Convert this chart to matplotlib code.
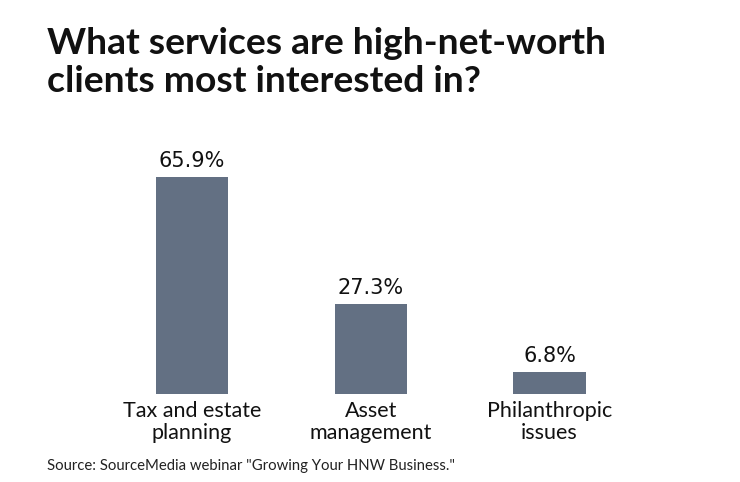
import matplotlib
matplotlib.use('Agg')
from matplotlib import pyplot as plt

categories = ['Tax and estate\nplanning', 'Asset\nmanagement', 'Philanthropic\nissues']
values = [65.9, 27.3, 6.8]
value_labels = ['65.9%', '27.3%', '6.8%']

bar_color = '#637083'

fig = plt.figure(figsize=(7.4, 4.82), dpi=100)
ax = fig.add_axes([0, (482 - 394) / 482, 1, 294 / 482])

x = list(range(len(values)))
ax.bar(x, values, width=0.403, color=bar_color)
ax.set_xlim(-192 / 178.75, (740 - 192) / 178.75)
ax.set_ylim(0, 294 / 3.29)

for xi, v, lab in zip(x, values, value_labels):
    ax.text(xi, v + 3.0, lab, ha='center', va='baseline', fontsize=15,
            family='DejaVu Sans', color='#111111')

for xi, cat in zip(x, categories):
    ax.text(xi, -2.2, cat, ha='center', va='top', fontsize=15.5,
            family='Lato', color='#111111', linespacing=1.08)

ax.axis('off')

fig.text(47 / 740, 1 - 27 / 482, 'What services are high-net-worth\nclients most interested in?',
         ha='left', va='top', fontsize=26.8, fontweight='bold', family='Lato',
         color='#111111', linespacing=1.18)

fig.text(47 / 740, 1 - 466 / 482, 'Source: SourceMedia webinar "Growing Your HNW Business."',
         ha='left', va='center', fontsize=10.7, family='Lato', color='#222222')

plt.savefig('out.png', dpi=100)
